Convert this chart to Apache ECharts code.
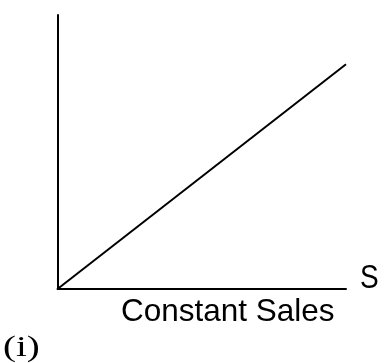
<!DOCTYPE html>
<html>
<head>
<meta charset="utf-8">
<script src="https://cdn.jsdelivr.net/npm/echarts@6/dist/echarts.min.js"></script>
<style>
  html, body { margin: 0; padding: 0; background: #fff; }
  #chart { width: 384px; height: 363px; }
</style>
</head>
<body>
<div id="chart"></div>
<script>
// 常数销售：直线过原点
var salesX = [0, 1];
var costY = [0, 0.82];
var axisName = 'S';
var xTitle = 'Constant Sales';
var panelTag = '(i)';

var myChart = echarts.init(document.getElementById('chart'));

var lineData = [];
for (var i = 0; i < salesX.length; i++) {
    lineData.push([salesX[i], costY[i]]);
}

myChart.setOption({
    animation: false,
    grid: {
        left: 57.5,
        right: 38,
        top: 15,
        bottom: 74
    },
    xAxis: {
        type: 'value',
        min: 0,
        max: 1,
        axisLine: { show: true, lineStyle: { color: '#000', width: 2 } },
        axisTick: { show: false },
        axisLabel: { show: false },
        splitLine: { show: false }
    },
    yAxis: {
        type: 'value',
        min: 0,
        max: 1,
        axisLine: { show: true, lineStyle: { color: '#000', width: 2 } },
        axisTick: { show: false },
        axisLabel: { show: false },
        splitLine: { show: false }
    },
    series: [
        {
            type: 'line',
            data: lineData,
            showSymbol: false,
            lineStyle: { color: '#000', width: 2 }
        }
    ],
    graphic: [
        {
            type: 'text',
            x: 360,
            y: 262,
            scaleX: 0.85,
            style: { text: axisName, font: '33px "Liberation Sans", Arial, sans-serif', fill: '#000' }
        },
        {
            type: 'text',
            x: 121,
            y: 296,
            style: { text: xTitle, font: '31.5px "Liberation Sans", Arial, sans-serif', fill: '#000' }
        },
        {
            type: 'text',
            x: 3,
            y: 333,
            scaleX: 1.3,
            style: { text: panelTag, font: '30px "Liberation Serif", "Times New Roman", serif', fill: '#000' }
        }
    ]
});
</script>
</body>
</html>
